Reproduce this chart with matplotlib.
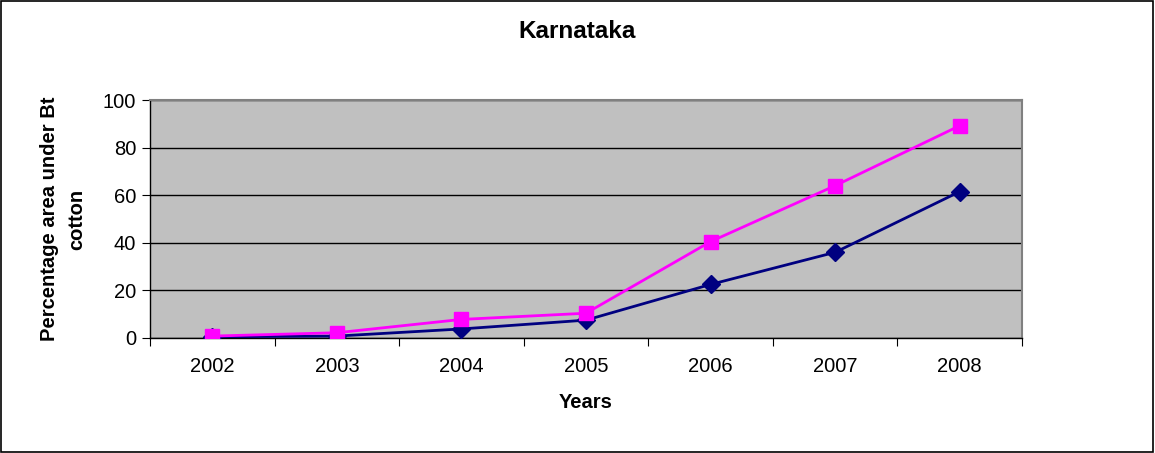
import numpy as np
import matplotlib.pyplot as plt
from matplotlib.patches import Rectangle

plt.rcParams['font.family'] = ['Liberation Sans', 'DejaVu Sans']

years = ['2002', '2003', '2004', '2005', '2006', '2007', '2008']
series_navy = [0.5, 0.8, 3.8, 7.5, 22.5, 36, 61.5]
series_pink = [0.8, 2.2, 7.8, 10.4, 40.5, 64, 89.2]

fig = plt.figure(figsize=(11.55, 4.53), dpi=100)
ax = fig.add_axes([0.1299, 0.2539, 0.8848 - 0.1299, 0.7792 - 0.2539])
ax.set_facecolor('#C0C0C0')

x = np.arange(len(years))
ax.plot(x, series_navy, color='#000080', lw=2, marker='D', ms=9, zorder=3)
ax.plot(x, series_pink, color='#FF00FF', lw=2, marker='s', ms=10, zorder=4)

ax.set_xlim(-0.5, len(years) - 0.5)
ax.set_ylim(0, 100)
ax.set_yticks(np.arange(0, 101, 20))
ax.yaxis.grid(True, color='#000000', lw=1)
ax.set_axisbelow(True)

# category ticks between labels
ax.set_xticks(np.arange(-0.5, len(years), 1.0))
ax.set_xticklabels([])
ax.set_xticks(x, minor=True)
ax.set_xticklabels(years, minor=True)
ax.tick_params(axis='x', which='minor', length=0, pad=14, labelsize=14.5)
ax.tick_params(axis='x', which='major', length=6, direction='out', color='#000000')
ax.tick_params(axis='y', length=6, direction='out', labelsize=14.5, pad=4)

for s in ['top', 'right']:
    ax.spines[s].set_color('#808080')
    ax.spines[s].set_linewidth(1.5)
for s in ['left', 'bottom']:
    ax.spines[s].set_color('#000000')
    ax.spines[s].set_linewidth(1)

# title is centred on the figure, not the plot area
ax.set_title('Karnataka', fontsize=17.5, fontweight='bold', pad=45, x=0.49)
ax.set_xlabel('Years', fontsize=14.5, fontweight='bold', labelpad=12)
ax.set_ylabel('Percentage area under Bt\ncotton', fontsize=14.5, fontweight='bold',
              labelpad=12, linespacing=1.55)

fig.patches.append(Rectangle((0.001, 0.002), 0.997, 0.995, transform=fig.transFigure,
                             fill=False, edgecolor='#000000', lw=1.2))

fig.savefig('out.png', dpi=100)
